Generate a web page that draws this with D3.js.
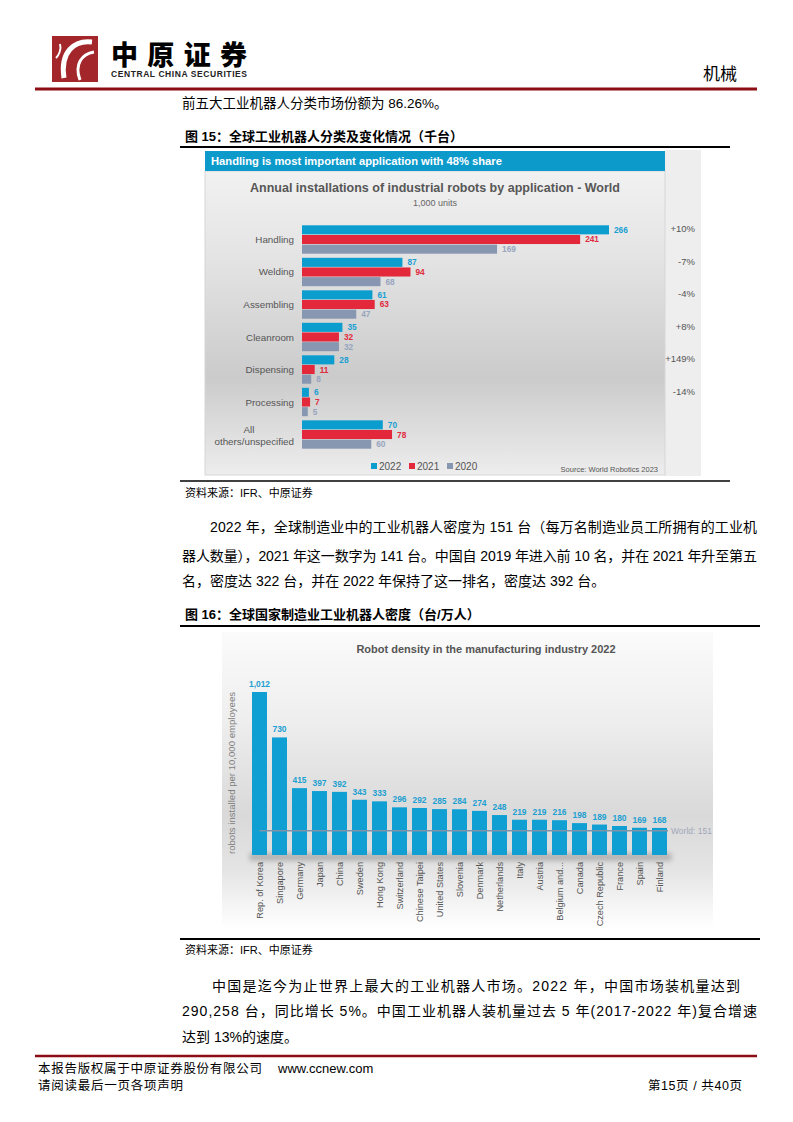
<!DOCTYPE html>
<html><head><meta charset="utf-8">
<script src="https://cdn.jsdelivr.net/npm/d3@7"></script>
<style>
html,body{margin:0;padding:0;background:#fff;}
svg{display:block;}
text{font-family:"Liberation Sans","Noto Sans CJK SC",sans-serif;}
</style></head><body>
<script>
// ---------- Data: chart 1 ----------
const appCategories = ["Handling","Welding","Assembling","Cleanroom","Dispensing","Processing","All others/unspecified"];
const appSeries = ["2022","2021","2020"];
const inst2022 = [266,87,61,35,28,6,70];
const inst2021 = [241,94,63,32,11,7,78];
const inst2020 = [169,68,47,32,8,5,60];
const changeLabels = ["+10%","-7%","-4%","+8%","+149%","-14%",""];
const appColors = ["#0c9dcf","#e4283c","#8796b1"];
const appLabelColors = ["#1a9fd2","#e02a3d","#97a5be"];

// ---------- Data: chart 2 ----------
const countries = ["Rep. of Korea","Singapore","Germany","Japan","China","Sweden","Hong Kong","Switzerland","Chinese Taipei","United States","Slovenia","Denmark","Netherlands","Italy","Austria","Belgium and...","Canada","Czech Republic","France","Spain","Finland"];
const densities = [1012,730,415,397,392,343,333,296,292,285,284,274,248,219,219,216,198,189,180,169,168];
const worldDensity = 151;

const svg = d3.select("body").append("svg").attr("width",793).attr("height",1122);
const defs = svg.append("defs");

function txt(x,y,s,opt={}){
  const t = svg.append("text").attr("x",x).attr("y",y).text(s)
    .attr("font-size",opt.size||14).attr("fill",opt.fill||"#000");
  if(opt.weight) t.attr("font-weight",opt.weight);
  if(opt.anchor) t.attr("text-anchor",opt.anchor);
  if(opt.len) t.attr("textLength",opt.len).attr("lengthAdjust","spacing");
  return t;
}
function hline(x1,x2,y,w,c){
  svg.append("line").attr("x1",x1).attr("x2",x2).attr("y1",y).attr("y2",y)
    .attr("stroke",c).attr("stroke-width",w);
}

// ---------- Header ----------
svg.append("rect").attr("x",52).attr("y",36).attr("width",46).attr("height",46).attr("fill","#a3262b");
svg.append("path").attr("d","M92 42 C74 40 60 52 64 78").attr("fill","none").attr("stroke","#fff").attr("stroke-width",5);
svg.append("path").attr("d","M94 52 C82 54 74 64 80 80").attr("fill","none").attr("stroke","#fff").attr("stroke-width",3);
svg.append("path").attr("d","M60 44 C62 50 58 56 56 58").attr("fill","none").attr("stroke","#fff").attr("stroke-width",2);
txt(111,65,"中原证券",{size:27,weight:900,len:136});
txt(111,77,"CENTRAL CHINA SECURITIES",{size:8.5,weight:"bold",len:136,fill:"#222"});
txt(703,80,"机械",{size:17});
hline(35,757,89,3,"#8c0d13");
txt(182,108,"前五大工业机器人分类市场份额为 86.26%。",{size:13.5});

// ---------- Figure 15 ----------
txt(185,141,"图 15：全球工业机器人分类及变化情况（千台）",{size:13,weight:"bold"});
hline(180,730,147,2,"#000");

const g1 = defs.append("linearGradient").attr("id","bg1").attr("x1",0).attr("y1",0).attr("x2",0).attr("y2",1);
[[0,"#f1f1f1"],[0.3,"#e3e3e3"],[0.68,"#cbcbcb"],[1,"#ededed"]].forEach(s=>g1.append("stop").attr("offset",s[0]).attr("stop-color",s[1]));
svg.append("rect").attr("x",665).attr("y",150).attr("width",36).attr("height",326).attr("fill","#eeeeee");
svg.append("rect").attr("x",205).attr("y",171).attr("width",460).attr("height",304).attr("fill","url(#bg1)").attr("stroke","#d6d6d6");
svg.append("rect").attr("x",205).attr("y",151).attr("width",460).attr("height",20).attr("fill","#0c9acb");
txt(211,165,"Handling is most important application with 48% share",{size:11.2,weight:"bold",fill:"#fff"});
txt(435,192,"Annual installations of industrial robots by application - World",{size:12.5,weight:"bold",fill:"#575757",anchor:"middle"});
txt(435,206,"1,000 units",{size:9,fill:"#666",anchor:"middle"});

const appValues = [inst2022,inst2021,inst2020];
const yCat = d3.scaleBand().domain(appCategories).range([225,449]).paddingInner(0.108);
const ySer = d3.scaleBand().domain(appSeries).range([0,yCat.bandwidth()]);
const xInst = d3.scaleLinear().domain([0,266]).range([302,609]);

const rows = [];
appCategories.forEach((c,i)=>appSeries.forEach((s,j)=>rows.push({c,s,j,v:appValues[j][i]})));
const gb = svg.append("g");
gb.selectAll("rect").data(rows).join("rect")
  .attr("x",xInst(0)).attr("y",d=>yCat(d.c)+ySer(d.s)+0.3)
  .attr("width",d=>xInst(d.v)-xInst(0)).attr("height",ySer.bandwidth()-0.6)
  .attr("fill",d=>appColors[d.j]);
gb.selectAll("text").data(rows).join("text")
  .attr("x",d=>xInst(d.v)+5).attr("y",d=>yCat(d.c)+ySer(d.s)+ySer.bandwidth()/2+3)
  .attr("font-size",8.3).attr("font-weight","bold").attr("fill",d=>appLabelColors[d.j])
  .text(d=>d.v);

appCategories.forEach((c,i)=>{
  const cy = yCat(c)+yCat.bandwidth()/2;
  if(c.length>15){
    const k = c.indexOf(" ");
    txt(294-45,cy-2,c.slice(0,k),{size:9.8,fill:"#555",anchor:"middle"});
    txt(294,cy+10,c.slice(k+1),{size:9.8,fill:"#555",anchor:"end"});
  } else {
    txt(294,cy+3.5,c,{size:9.8,fill:"#555",anchor:"end"});
  }
  if(changeLabels[i]) txt(695,yCat(c)+7,changeLabels[i],{size:9.5,fill:"#555",anchor:"end"});
});

appSeries.forEach((s,j)=>{
  const lx = 371 + j*38;
  svg.append("rect").attr("x",lx).attr("y",463).attr("width",6).attr("height",6).attr("fill",appColors[j]);
  txt(lx+8,470,s,{size:10,fill:"#555"});
});
txt(658,472,"Source: World Robotics 2023",{size:7.5,fill:"#555",anchor:"end"});

hline(180,730,481,1.5,"#000");
txt(185,497,"资料来源：IFR、中原证券",{size:11});

// ---------- Paragraph ----------
txt(210,532,"2022 年，全球制造业中的工业机器人密度为 151 台（每万名制造业员工所拥有的工业机",{size:14,len:547});
txt(182,561,"器人数量），2021 年这一数字为 141 台。中国自 2019 年进入前 10 名，并在 2021 年升至第五",{size:14,len:575});
txt(182,586,"名，密度达 322 台，并在 2022 年保持了这一排名，密度达 392 台。",{size:14});

// ---------- Figure 16 ----------
txt(185,619,"图 16：全球国家制造业工业机器人密度（台/万人）",{size:13,weight:"bold"});
hline(180,760,626,2,"#000");

const g2 = defs.append("linearGradient").attr("id","bg2").attr("x1",0).attr("y1",0).attr("x2",0).attr("y2",1);
[[0,"#fbfbfb"],[0.3,"#eeeeee"],[0.62,"#d9d9d9"],[0.8,"#e4e4e4"],[1,"#ffffff"]].forEach(s=>g2.append("stop").attr("offset",s[0]).attr("stop-color",s[1]));
svg.append("rect").attr("x",222).attr("y",632).attr("width",491).attr("height",296).attr("fill","url(#bg2)");
txt(486,653,"Robot density in the manufacturing industry 2022",{size:11,weight:"bold",fill:"#555",anchor:"middle"});
svg.append("text").attr("transform","translate(235,773) rotate(-90)").attr("text-anchor","middle")
  .attr("font-size",9.6).attr("fill","#808080").text("robots installed per 10,000 employees");

const xC = d3.scaleBand().domain(countries).range([249.5,669.5]).paddingInner(0.25).paddingOuter(0.125);
const yD = d3.scaleLinear().domain([0,1012]).range([855,692]);

const blur = defs.append("filter").attr("id","blur").attr("x","-10%").attr("y","-100%").attr("width","120%").attr("height","300%");
blur.append("feGaussianBlur").attr("stdDeviation",2.5);
svg.append("rect").attr("x",xC.range()[0]).attr("y",yD(0)-2).attr("width",xC.range()[1]-xC.range()[0]+2).attr("height",8)
  .attr("fill","#8c8c8c").attr("opacity",0.55).attr("filter","url(#blur)");

const cData = countries.map((c,i)=>({c,v:densities[i]}));
const g2b = svg.append("g");
g2b.selectAll("rect").data(cData).join("rect")
  .attr("x",d=>xC(d.c)).attr("y",d=>yD(d.v)).attr("width",xC.bandwidth()).attr("height",d=>yD(0)-yD(d.v))
  .attr("fill","#0f9fd3");
g2b.selectAll("text.v").data(cData).join("text").attr("class","v")
  .attr("x",d=>xC(d.c)+xC.bandwidth()/2).attr("y",d=>yD(d.v)-5).attr("text-anchor","middle")
  .attr("font-size",8.4).attr("font-weight","bold").attr("fill","#1c9fd1").text(d=>d3.format(",")(d.v));
g2b.selectAll("text.c").data(cData).join("text").attr("class","c")
  .attr("transform",d=>`translate(${xC(d.c)+xC.bandwidth()/2+3},862) rotate(-90)`).attr("text-anchor","end")
  .attr("font-size",9.2).attr("fill","#555").text(d=>d.c);

svg.append("line").attr("x1",xC(countries[0])+xC.bandwidth()/2).attr("x2",xC(countries[countries.length-1])+xC.bandwidth()+1)
  .attr("y1",yD(worldDensity)).attr("y2",yD(worldDensity)).attr("stroke","#7f94a8").attr("stroke-width",1.6);
txt(xC(countries[countries.length-1])+xC.bandwidth()+4,yD(worldDensity)+3,"World: "+worldDensity,{size:8.5,fill:"#a0a8b8"});

hline(180,760,939,2,"#000");
txt(185,954,"资料来源：IFR、中原证券",{size:11});

txt(212,991,"中国是迄今为止世界上最大的工业机器人市场。2022 年，中国市场装机量达到",{size:14,len:528});
txt(182,1016,"290,258 台，同比增长 5%。中国工业机器人装机量过去 5 年(2017-2022 年)复合增速",{size:14,len:575});
txt(182,1042,"达到 13%的速度。",{size:14});

// ---------- Footer ----------
hline(35,757,1056,2.5,"#8c0d13");
txt(38,1073,"本报告版权属于中原证券股份有限公司",{size:12.5,len:224});
txt(278,1073,"www.ccnew.com",{size:13});
txt(38,1090,"请阅读最后一页各项声明",{size:12.5,len:145});
txt(742,1090,"第15页 / 共40页",{size:12.5,anchor:"end",len:94});
</script>
</body></html>
